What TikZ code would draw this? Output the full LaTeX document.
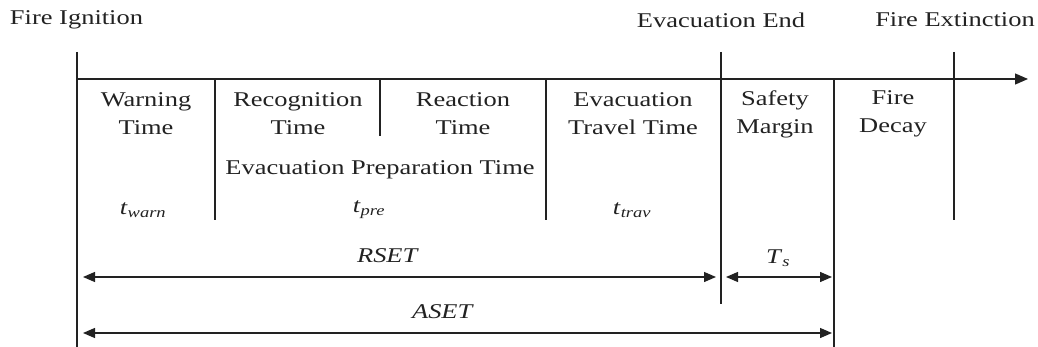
\documentclass[tikz,border=0pt]{standalone}
\usepackage{fontspec}
\setmainfont{Liberation Serif}[FakeStretch=1.26]
\usetikzlibrary{arrows.meta}
\definecolor{ink}{HTML}{222222}
\tikzset{
  ln/.style={line width=1.3pt, draw=ink},
  dim/.style={line width=1.3pt, draw=ink, {Triangle[length=12pt,width=10pt]}-{Triangle[length=12pt,width=10pt]}},
  lbl/.style={text=ink, inner sep=0pt, align=center, font=\fontsize{21}{28}\selectfont},
}
\begin{document}
\begin{tikzpicture}[x=1pt,y=-1pt]
\useasboundingbox (0,0) rectangle (1038,347);
% coordinates
\coordinate (a0) at (77,79);
\coordinate (aend) at (1028,79);
\coordinate (l0t) at (77,52);   \coordinate (l0b) at (77,347);
\coordinate (l1t) at (215,79);  \coordinate (l1b) at (215,220);
\coordinate (l2t) at (380,79);  \coordinate (l2b) at (380,136);
\coordinate (l3t) at (546,79);  \coordinate (l3b) at (546,220);
\coordinate (l4t) at (721,52);  \coordinate (l4b) at (721,304);
\coordinate (l5t) at (834,79);  \coordinate (l5b) at (834,347);
\coordinate (l6t) at (954,52);  \coordinate (l6b) at (954,220);
\coordinate (r0) at (83,277);  \coordinate (r1) at (716,277);
\coordinate (s0) at (726,277); \coordinate (s1) at (832,277);
\coordinate (q0) at (83,333);  \coordinate (q1) at (832,333);
% axis and lines
\draw[ln, -{Triangle[length=13pt,width=11pt]}] (a0) -- (aend);
\draw[ln] (l0t) -- (l0b);
\draw[ln] (l1t) -- (l1b);
\draw[ln] (l2t) -- (l2b);
\draw[ln] (l3t) -- (l3b);
\draw[ln] (l4t) -- (l4b);
\draw[ln] (l5t) -- (l5b);
\draw[ln] (l6t) -- (l6b);
% dimension arrows
\draw[dim] (r0) -- (r1);
\draw[dim] (s0) -- (s1);
\draw[dim] (q0) -- (q1);
% top labels
\node[lbl] (ign) at (76.5,20) {Fire Ignition};
\node[lbl] (evend) at (721,20) {Evacuation End};
\node[lbl] (ext) at (955,20) {Fire Extinction};
% interval labels
\node[lbl] (warn) at (146,114) {Warning\\Time};
\node[lbl] (recog) at (298,114) {Recognition\\Time};
\node[lbl] (react) at (463,114) {Reaction\\Time};
\node[lbl] (trav) at (633,114) {Evacuation\\Travel Time};
\node[lbl] (safe) at (775,114) {Safety\\Margin};
\node[lbl] (decay) at (893,114) {Fire\\Decay};
\node[lbl] (prep) at (380,170) {Evacuation Preparation Time};
% symbols
\node[lbl] (tw) at (143,210) {\textit{t}\textsubscript{\textit{warn}}};
\node[lbl] (tp) at (369,210) {\textit{t}\textsubscript{\textit{pre}}};
\node[lbl] (tt) at (632,210) {\textit{t}\textsubscript{\textit{trav}}};
\node[lbl] (rset) at (388,256) {\textit{RSET}};
\node[lbl] (ts) at (778,258) {\textit{T}\textsubscript{\textit{s}}};
\node[lbl] (aset) at (443,312) {\textit{ASET}};
\end{tikzpicture}
\end{document}
